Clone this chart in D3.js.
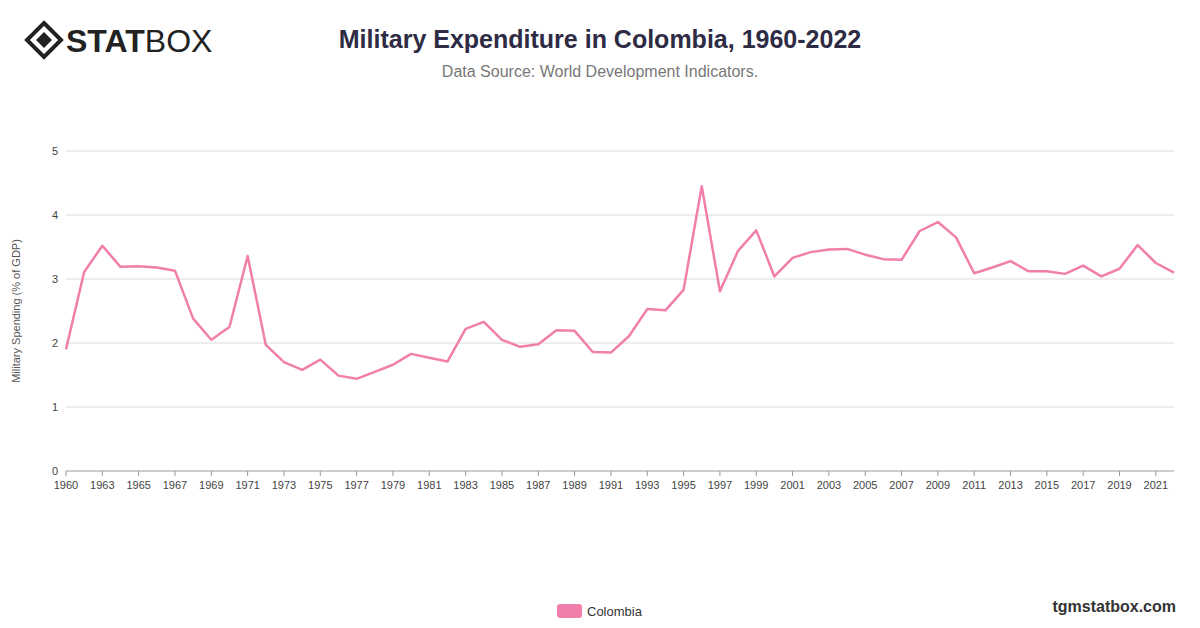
<!DOCTYPE html>
<html><head><meta charset="utf-8">
<script src="https://cdn.jsdelivr.net/npm/d3@7"></script>
<style>body{margin:0;background:#fff;font-family:"Helvetica Neue",Arial,"Liberation Sans",sans-serif}</style>
</head><body><svg id="c" width="1200" height="628"></svg>
<script>
const years = [1960,1961,1963,1964,1965,1966,1967,1968,1969,1970,1971,1972,1973,1974,1975,1976,1977,1978,1979,1980,1981,1982,1983,1984,1985,1986,1987,1988,1989,1990,1991,1992,1993,1994,1995,1996,1997,1998,1999,2000,2001,2002,2003,2004,2005,2006,2007,2008,2009,2010,2011,2012,2013,2014,2015,2016,2017,2018,2019,2020,2021,2022];
const spending = [1.9,3.11,3.52,3.19,3.2,3.18,3.13,2.38,2.05,2.25,3.36,1.97,1.7,1.58,1.74,1.49,1.44,1.55,1.66,1.83,1.77,1.71,2.22,2.33,2.05,1.94,1.98,2.2,2.19,1.86,1.85,2.11,2.53,2.51,2.83,4.45,2.81,3.44,3.76,3.04,3.33,3.42,3.46,3.47,3.38,3.31,3.3,3.75,3.89,3.65,3.09,3.18,3.28,3.12,3.12,3.08,3.21,3.04,3.16,3.53,3.25,3.1];
const yTicks = [0,1,2,3,4,5];

const svg = d3.select("#c");
const L = 66, R = 1174, T = 151, B = 471;
const x = d3.scalePoint().domain(years).range([L, R]);
const y = d3.scaleLinear().domain([0, 5]).range([B, T]);

// grid
svg.append("g").selectAll("line").data(yTicks).join("line")
  .attr("x1", L).attr("x2", R).attr("y1", d => y(d)).attr("y2", d => y(d))
  .attr("stroke", d => d === 0 ? "#999" : "#dcdcdc").attr("stroke-width", 1);
svg.append("g").selectAll("text").data(yTicks).join("text")
  .attr("x", 58).attr("y", d => y(d) + 4).attr("text-anchor", "end")
  .attr("font-size", 11).attr("fill", "#444").text(d => d);

// x labels (every second category)
svg.append("g").selectAll("text").data(years.filter((d, i) => i % 2 === 0)).join("text")
  .attr("x", d => x(d)).attr("y", 489).attr("text-anchor", "middle")
  .attr("font-size", 11).attr("fill", "#444").text(d => d);
svg.append("g").selectAll("line").data(years.filter((d, i) => i % 2 === 0)).join("line")
  .attr("x1", d => x(d)).attr("x2", d => x(d)).attr("y1", B).attr("y2", B + 5).attr("stroke", "#999");

svg.append("text").attr("transform", "translate(20,311) rotate(-90)").attr("text-anchor", "middle")
  .attr("font-size", 11).attr("fill", "#555").text("Military Spending (% of GDP)");

// line
svg.append("path").datum(years.map((d, i) => [d, spending[i]]))
  .attr("fill", "none").attr("stroke", "#f17fab").attr("stroke-width", 2.5).attr("stroke-linejoin", "round")
  .attr("d", d3.line().x(d => x(d[0])).y(d => y(d[1])));

// titles
svg.append("text").attr("x", 600).attr("y", 48).attr("text-anchor", "middle")
  .attr("font-size", 25).attr("font-weight", "bold").attr("fill", "#2e2b45")
  .text("Military Expenditure in Colombia, 1960-2022");
svg.append("text").attr("x", 600).attr("y", 77).attr("text-anchor", "middle")
  .attr("font-size", 16).attr("fill", "#777").text("Data Source: World Development Indicators.");

// legend
svg.append("rect").attr("x", 557).attr("y", 604).attr("width", 25).attr("height", 14).attr("rx", 3).attr("fill", "#f17fab");
svg.append("text").attr("x", 587).attr("y", 616).attr("font-size", 13).attr("fill", "#333").text("Colombia");

svg.append("text").attr("x", 1176).attr("y", 612).attr("text-anchor", "end")
  .attr("font-size", 16).attr("font-weight", "bold").attr("fill", "#333").text("tgmstatbox.com");

// logo
const lg = svg.append("g").attr("transform", "translate(44,40)");
lg.append("path").attr("d", "M0,-17 L17,0 L0,17 L-17,0 Z").attr("fill", "none").attr("stroke", "#222").attr("stroke-width", 4);
lg.append("path").attr("d", "M0,-8 L8,0 L0,8 L-8,0 Z").attr("fill", "#222");
svg.append("text").attr("x", 66).attr("y", 52).attr("font-size", 32).attr("fill", "#222")
  .html('<tspan font-weight="900">STAT</tspan><tspan font-weight="300">BOX</tspan>');
</script></body></html>
